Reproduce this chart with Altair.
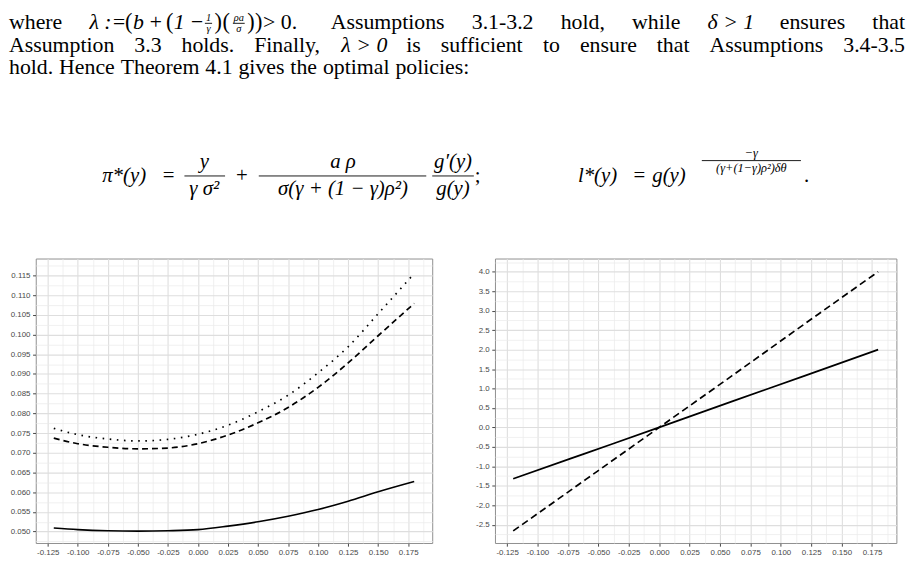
import altair as alt
import pandas as pd

# ---------------- chart data ----------------
x_left = [-0.12, -0.10, -0.075, -0.05, -0.025, 0.0, 0.025, 0.05, 0.075, 0.10, 0.125, 0.15, 0.18]
pi_solid = [0.0509, 0.0505, 0.0502, 0.0501, 0.0502, 0.0505, 0.0514, 0.0525, 0.0539, 0.0556, 0.0577, 0.0601, 0.0627]
pi_dashed = [0.0737, 0.0723, 0.0714, 0.0710, 0.0712, 0.0723, 0.0745, 0.0776, 0.0815, 0.0866, 0.0928, 0.0997, 0.1079]
pi_dotted = [0.0762, 0.0746, 0.0735, 0.0730, 0.0734, 0.0747, 0.0770, 0.0804, 0.0846, 0.0903, 0.0969, 0.1053, 0.1155]

x_right = [-0.12, -0.06, 0.0, 0.06, 0.12, 0.18]
l_solid = [-1.32, -0.66, 0.0, 0.67, 1.33, 2.0]
l_dashed = [-2.66, -1.33, 0.0, 1.33, 2.67, 4.0]

x_tick_labels = [-0.125, -0.100, -0.075, -0.050, -0.025, 0.000, 0.025, 0.050,
                 0.075, 0.100, 0.125, 0.150, 0.175]
left_y_tick_labels = [0.050, 0.055, 0.060, 0.065, 0.070, 0.075, 0.080, 0.085,
                      0.090, 0.095, 0.100, 0.105, 0.110, 0.115]
right_y_tick_labels = [-2.5, -2.0, -1.5, -1.0, -0.5, 0.0, 0.5, 1.0, 1.5, 2.0,
                       2.5, 3.0, 3.5, 4.0]

# ---------------- page text ----------------
TS = "\u2009"  # thin space
line1_words = [("rm", "where"), ("block", ""), ("rm", "Assumptions"), ("rm", "3.1-3.2"),
               ("rm", "hold,"), ("rm", "while"), ("it", "δ > 1"), ("rm", "ensures"),
               ("rm", "that")]
inline_math = [("it", "λ :="), ("big", "("), ("it", "b" + TS + "+" + TS),
               ("big", "("), ("it", "1" + TS + "−"), ("frac", "1", "γ"), ("big", ")"),
               ("big", "("), ("frac", "ρa", "σ"), ("big", ")"), ("big", ")"),
               ("rm", " > 0.")]
line2_words = [("rm", "Assumption"), ("rm", "3.3"), ("rm", "holds."), ("rm", "Finally,"),
               ("it", "λ > 0"), ("rm", "is"), ("rm", "sufficient"), ("rm", "to"),
               ("rm", "ensure"), ("rm", "that"), ("rm", "Assumptions"), ("rm", "3.4-3.5")]
line3_words = [("rm", "hold."), ("rm", "Hence"), ("rm", "Theorem"), ("rm", "4.1"),
               ("rm", "gives"), ("rm", "the"), ("rm", "optimal"), ("rm", "policies:")]

eq_pi_lhs = "π*(y)"
eq_pi_frac1 = ("y", "γ σ²")
eq_pi_frac2 = ("a ρ", "σ(γ + (1 − γ)ρ²)")
eq_pi_frac3 = ("g′(y)", "g(y)")
eq_l_lhs = "l*(y)"
eq_l_base = "g(y)"
eq_l_exp = ("−γ", "(γ+(1−γ)ρ²)δθ")

# ---------------- text layout helpers ----------------
W = {" ": 250, "\u2009": 200, "a": 444, "b": 500, "c": 444, "d": 500, "e": 444, "f": 333,
     "g": 500, "h": 500, "i": 278, "j": 278, "k": 500, "l": 278, "m": 778, "n": 500,
     "o": 500, "p": 500, "q": 500, "r": 333, "s": 389, "t": 278, "u": 500, "v": 500,
     "w": 722, "x": 500, "y": 500, "z": 444, "A": 722, "F": 556, "H": 722, "T": 611,
     ".": 250, ",": 250, "-": 333, ":": 278, "=": 564, ">": 564, "+": 564, "(": 333,
     ")": 333, "−": 564, "²": 300, "′": 275}
FS = 22       # body text
EFS = 21      # display equations
SF = 10.5     # small inline fractions
BP = 22.5     # larger parentheses
OX, OY = 35.0, 8.0
txt = []
bars = []


def tw(s, fs):
    return sum(W.get(ch, 500) for ch in s) / 1000.0 * fs


def put(kind, t, px, py, fs):
    txt.append({"t": t, "x": px - OX, "y": py - OY, "s": fs, "kind": kind})


def bar(px1, px2, py):
    bars.append({"x": px1 - OX, "x2": px2 - OX, "y": py - OY})


def inline_block(x0, yb, do):
    x = x0
    for part in inline_math:
        if part[0] == "frac":
            _, num, den = part
            w = max(tw(num, SF), tw(den, SF)) + 3
            x += 2
            if do:
                put("itc", num, x + w / 2, yb - 7.5, SF)
                put("itc", den, x + w / 2, yb + 3.5, SF)
                bar(x + 0.5, x + w - 0.5, yb - 5.5)
            x += w + 2
        elif part[0] == "big":
            if do:
                put("rm", part[1], x, yb + 0.3, BP)
            x += tw(part[1], BP) + 0.5
        else:
            if do:
                put(part[0], part[1], x, yb, FS)
            x += tw(part[1], FS) + 1
    return x - x0


def tok_width(tok):
    if tok[0] == "block":
        return inline_block(0, 0, False)
    return tw(tok[1], FS)


def set_line(tokens, yb, left, right, justify):
    widths = [tok_width(t) for t in tokens]
    gap = (right - left - sum(widths)) / (len(tokens) - 1) if justify else 0.27 * FS
    x = left
    for i, (tok, w) in enumerate(zip(tokens, widths)):
        if tok[0] == "block":
            inline_block(x, yb, True)
        elif justify and i == len(tokens) - 1:
            put("rmr" if tok[0] == "rm" else "it", tok[1], right, yb, FS)
        else:
            put(tok[0], tok[1], x, yb, FS)
        x += w + gap


set_line(line1_words, 25.5, 8, 912, True)
set_line(line2_words, 49, 8, 912, True)
set_line(line3_words, 71.5, 8, 912, False)

# display equations
EB = 180
AX = EB - 6
put("it", eq_pi_lhs, 102, EB, EFS)
put("rmc", "=", 169, EB, EFS)
for (num, den), cx, x1, x2 in [(eq_pi_frac1, 205, 185, 226),
                               (eq_pi_frac2, 345, 260, 429),
                               (eq_pi_frac3, 456, 435, 477)]:
    put("itc", num, cx, AX - 8, EFS)
    put("itc", den, cx, AX + 19, EFS)
    bar(x1, x2, AX)
put("rmc", "+", 243, EB, EFS)
put("rm", ";", 478, EB, EFS)

put("it", eq_l_lhs, 582, EB, EFS)
put("rmc", "=", 644, EB, EFS)
put("it", eq_l_base, 657, EB, EFS)
put("itc", eq_l_exp[0], 757, 155, 12.5)
put("itc", eq_l_exp[1], 757, 170.5, 12.5)
bar(707, 807, 158.5)
put("rm", ".", 810, EB, EFS)

tdf = pd.DataFrame(txt)
bdf = pd.DataFrame(bars)

styles = {"rm": dict(align="left"), "rmr": dict(align="right"), "rmc": dict(align="center"),
          "it": dict(align="left", fontStyle="italic"),
          "itc": dict(align="center", fontStyle="italic")}
hlayers = []
for kind, opts in styles.items():
    sub = tdf[tdf.kind == kind]
    if len(sub) == 0:
        continue
    hlayers.append(
        alt.Chart(sub).mark_text(baseline="alphabetic", font="Liberation Serif",
                                 color="black", **opts).encode(
            x=alt.X("x:Q", scale=None),
            y=alt.Y("y:Q", scale=None),
            text="t:N",
            size=alt.Size("s:Q", scale=None, legend=None),
        )
    )
hlayers.append(
    alt.Chart(bdf).mark_rule(color="black", strokeWidth=0.9).encode(
        x=alt.X("x:Q", scale=None), x2="x2:Q", y=alt.Y("y:Q", scale=None)
    )
)
header = alt.layer(*hlayers).properties(width=860, height=240)


# ---------------- plot panels ----------------
def axis_for(major_vals, step, fmt, mult):
    minor_vals = [round(v + step / 2, 6) for v in major_vals] + [round(major_vals[0] - step / 2, 6)]
    vals = sorted(set([round(v, 6) for v in major_vals] + minor_vals))
    major = f"abs(round(datum.value*{mult})) % 2 == 0"
    return alt.Axis(
        values=vals, title=None, grid=True, domain=False,
        labelExpr=f"({major}) ? replace(format(datum.value, '{fmt}'), '\u2212', '-') : ''",
        labelFont="Liberation Sans", labelFontSize=8, labelColor="#4a4a4a",
        labelPadding=2.6, labelOverlap=False, labelFlush=False,
        tickColor="#333333", tickWidth=0.9,
        tickSize={"condition": {"test": major, "value": 3.2}, "value": 0},
        gridColor={"condition": {"test": major, "value": "#dedede"}, "value": "#ebebeb"},
        gridWidth={"condition": {"test": major, "value": 1.1}, "value": 0.75},
    )


XDOM = [-0.135, 0.195]


def panel(df, ydom, yaxis, width, series):
    X = alt.X("x:Q", scale=alt.Scale(domain=XDOM, nice=False, zero=False),
              axis=axis_for(x_tick_labels, 0.025, ".3f", 80))
    Y = alt.Y("v:Q", scale=alt.Scale(domain=ydom, nice=False, zero=False), axis=yaxis)
    layers = []
    for name, dash in series:
        kw = dict(color="black", strokeWidth=1.7, interpolate="monotone", clip=True,
                  strokeCap="butt")
        if dash:
            kw["strokeDash"] = dash
        layers.append(
            alt.Chart(df).transform_filter(alt.datum.s == name).mark_line(**kw).encode(x=X, y=Y)
        )
    return alt.layer(*layers).properties(
        width=width, height=287,
        view=alt.ViewBackground(stroke="#8f8f8f", strokeWidth=1),
    )


n = len(x_left)
df_left = pd.DataFrame({
    "x": x_left * 3,
    "v": pi_solid + pi_dashed + pi_dotted,
    "s": ["solid"] * n + ["dashed"] * n + ["dotted"] * n,
})
m = len(x_right)
df_right = pd.DataFrame({
    "x": x_right * 2,
    "v": l_solid + l_dashed,
    "s": ["solid"] * m + ["dashed"] * m,
})

left = panel(df_left, [0.0471, 0.1193],
             axis_for(left_y_tick_labels, 0.005, ".3f", 400), 400,
             [("solid", None), ("dashed", [6, 4]), ("dotted", [1.6, 5.6])])
right = panel(df_right, [-2.97, 4.34],
              axis_for(right_y_tick_labels, 0.5, ".1f", 4), 405,
              [("solid", None), ("dashed", [7, 4])])

chart = alt.vconcat(
    header,
    alt.hconcat(left, right, spacing=63.3, bounds="flush"),
    spacing=9.3, bounds="flush",
).properties(padding=0).configure_view(stroke="transparent")

chart.save("out.html", embed_options={"renderer": "svg", "actions": False})
